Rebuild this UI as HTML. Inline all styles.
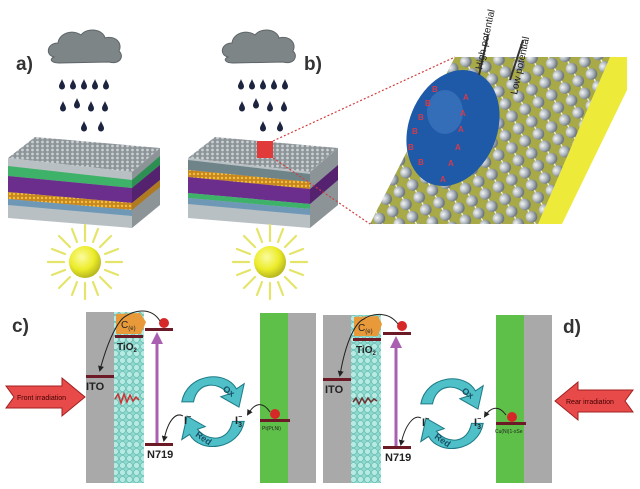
<!DOCTYPE html>
<html><head><meta charset="utf-8"><style>
html,body{margin:0;padding:0;background:#fff}
svg{display:block}
text{font-family:"Liberation Sans",sans-serif}
</style></head><body>
<svg width="640" height="489" viewBox="0 0 640 489" xmlns="http://www.w3.org/2000/svg">
<defs>
<radialGradient id="sun" cx="40%" cy="35%" r="65%"><stop offset="0" stop-color="#fbfba0"/><stop offset="0.6" stop-color="#ecec2a"/><stop offset="1" stop-color="#b8b820"/></radialGradient>
<radialGradient id="ball" cx="35%" cy="35%" r="65%"><stop offset="0" stop-color="#f4f6f8"/><stop offset="0.6" stop-color="#a9b1b8"/><stop offset="1" stop-color="#6c757c"/></radialGradient>
<pattern id="balls" width="15" height="14" patternUnits="userSpaceOnUse" patternTransform="rotate(-28)">
<line x1="7.5" y1="0" x2="7.5" y2="14" stroke="#fff" stroke-width="1.2"/>
<circle cx="7.5" cy="7" r="5.8" fill="url(#ball)"/></pattern>
<pattern id="hex" width="5" height="4" patternUnits="userSpaceOnUse"><rect width="5" height="4" fill="#8d9599"/><circle cx="2.5" cy="2" r="1.4" fill="#c9cfd2"/></pattern>
<pattern id="teal" width="7" height="7" patternUnits="userSpaceOnUse"><rect width="7" height="7" fill="#8fd9cf"/><circle cx="3.5" cy="3.5" r="3" fill="#b6eae2" stroke="#5fb8ad" stroke-width="0.6"/></pattern>
<pattern id="orng" width="4" height="4" patternUnits="userSpaceOnUse"><rect width="4" height="4" fill="#c8861e"/><circle cx="2" cy="2" r="1.2" fill="#f2c040"/></pattern>
<clipPath id="par"><polygon points="455,57 627,57 620,95 555,224 370,224"/></clipPath>
<marker id="ah" markerWidth="6" markerHeight="6" refX="4" refY="3" orient="auto"><path d="M0,0 L6,3 L0,6 z" fill="#222"/></marker>
<marker id="ahp" markerWidth="4" markerHeight="4" refX="2" refY="2" orient="auto"><path d="M0,0 L4,2 L0,4 z" fill="#a960b0"/></marker>
<g id="cloud"><path d="M5,28 C-4,26 -2,14 9,14 C10,4 24,0 32,6 C38,-2 54,0 56,9 C66,6 74,14 70,22 C76,28 70,36 60,33 L10,34 C2,34 0,30 5,28 z" fill="#7d8587" stroke="#5e6568" stroke-width="1"/></g>
<g id="d"><path d="M0,-6 C1,-3 3,-1 3,1.5 A3,3 0 0 1 -3,1.5 C-3,-1 -1,-3 0,-6 z" fill="#1d2440"/></g>
<g id="sunG" stroke="#e4e46a" stroke-width="2.2" stroke-linecap="round">
<line x1="0" y1="-21" x2="0" y2="-37"/><line x1="0" y1="21" x2="0" y2="37"/><line x1="-21" y1="0" x2="-37" y2="0"/><line x1="21" y1="0" x2="37" y2="0"/>
<line x1="15" y1="-15" x2="26" y2="-26"/><line x1="-15" y1="-15" x2="-26" y2="-26"/><line x1="15" y1="15" x2="26" y2="26"/><line x1="-15" y1="15" x2="-26" y2="26"/>
<line x1="8" y1="-20" x2="13" y2="-33"/><line x1="-8" y1="-20" x2="-13" y2="-33"/><line x1="20" y1="-8" x2="33" y2="-13"/><line x1="-20" y1="-8" x2="-33" y2="-13"/>
<line x1="20" y1="8" x2="33" y2="13"/><line x1="-20" y1="8" x2="-33" y2="13"/><line x1="8" y1="20" x2="13" y2="33"/><line x1="-8" y1="20" x2="-13" y2="33"/>
<circle r="16" fill="url(#sun)" stroke="none"/></g>
<g id="rainG"><use href="#d" x="0" y="0"/><use href="#d" x="11" y="0"/><use href="#d" x="22" y="0"/><use href="#d" x="33" y="0"/><use href="#d" x="44" y="0"/>
<use href="#d" x="1" y="22"/><use href="#d" x="15" y="19"/><use href="#d" x="29" y="22"/><use href="#d" x="43" y="22"/>
<use href="#d" x="22" y="42"/><use href="#d" x="39" y="42"/></g>
<g id="cyc">
<g transform="scale(1.3)">
<g transform="translate(0,-5)">
<path d="M-24,-2 C-20,-24 10,-27 18,-12 L24,-16 L20,2 L6,-6 L12,-8 C4,-18 -12,-18 -15,-2 z" fill="#4fc0c8" stroke="#1e7b87" stroke-width="0.8"/>
<text x="7" y="-11" font-size="7" font-weight="bold" fill="#1a4f66" transform="rotate(35 7 -11)">Ox</text></g>
<g transform="translate(0,6)">
<path d="M24,2 C20,24 -10,27 -18,12 L-24,16 L-20,-2 L-6,6 L-12,8 C-4,18 12,18 15,2 z" fill="#4fc0c8" stroke="#1e7b87" stroke-width="0.8"/>
<text x="-14" y="13" font-size="7" font-weight="bold" fill="#1a4f66" transform="rotate(35 -14 13)">Red</text></g>
</g></g>
</defs>

<!-- Panel a -->
<text x="16" y="70" font-size="19" font-weight="bold" fill="#333">a)</text>
<use href="#cloud" x="49" y="29"/>
<use href="#rainG" x="62" y="85"/>
<polygon points="8,158 35,137 160,148 132,172" fill="url(#hex)"/>
<polygon points="8,158 132,172 132,228 8,218" fill="#b8c0c4"/>
<polygon points="8,166 132,180 132,188 8,176" fill="#3fb26a"/>
<polygon points="8,176 132,188 132,203 8,192" fill="#6c2e8c"/>
<polygon points="8,192 132,203 132,210 8,199" fill="url(#orng)"/>
<polygon points="8,199 132,210 132,216 8,205" fill="#6e98b6"/>
<polygon points="132,172 160,148 160,205 132,228" fill="#8c9498"/>
<polygon points="132,180 160,156 160,165 132,188" fill="#2e8f54"/>
<polygon points="132,188 160,165 160,180 132,203" fill="#55226f"/>
<polygon points="132,203 160,180 160,187 132,210" fill="#b07a20"/>
<use href="#sunG" x="85" y="262"/>

<!-- Panel b -->
<text x="304" y="70" font-size="19" font-weight="bold" fill="#333">b)</text>
<use href="#cloud" x="223" y="29"/>
<use href="#rainG" x="241" y="85"/>
<polygon points="188,158 215,137 338,148 310,172" fill="url(#hex)"/>
<polygon points="188,158 310,172 310,228 188,218" fill="#b8c0c4"/>
<polygon points="188,160 310,174 310,182 188,170" fill="#6f8488"/>
<polygon points="188,170 310,182 310,189 188,177" fill="url(#orng)"/>
<polygon points="188,177 310,189 310,204 188,193" fill="#6c2e8c"/>
<polygon points="188,193 310,204 310,209 188,198" fill="#3fb26a"/>
<polygon points="188,198 310,209 310,215 188,204" fill="#6e98b6"/>
<polygon points="310,172 338,148 338,205 310,228" fill="#8c9498"/>
<polygon points="310,189 338,165 338,180 310,204" fill="#55226f"/>
<rect x="257" y="141" width="16" height="17" fill="#e03a3a"/>
<line x1="273" y1="141" x2="455" y2="57" stroke="#d04040" stroke-width="1.2" stroke-dasharray="2,2"/>
<line x1="273" y1="158" x2="370" y2="224" stroke="#d04040" stroke-width="1.2" stroke-dasharray="2,2"/>
<use href="#sunG" x="270" y="262"/>

<!-- zoom panel -->
<polygon points="455,57 627,57 620,95 555,224 370,224" fill="#a8aa48"/>
<rect x="360" y="50" width="280" height="180" fill="url(#balls)" clip-path="url(#par)"/>
<polygon points="610,57 627,57 627,90 562,224 538,224" fill="#eeea3a"/>
<ellipse cx="453" cy="128" rx="44" ry="60" transform="rotate(22 453 128)" fill="#1f5aa8"/>
<ellipse cx="445" cy="112" rx="18" ry="22" fill="#4a82c8" opacity="0.5"/>
<g fill="#d63a4a" font-size="8" font-weight="bold">
<text x="432" y="92">B</text><text x="425" y="106">B</text><text x="418" y="120">B</text><text x="412" y="134">B</text><text x="408" y="150">B</text><text x="418" y="165">B</text>
<text x="463" y="100">A</text><text x="460" y="116">A</text><text x="458" y="132">A</text><text x="455" y="150">A</text><text x="448" y="166">A</text><text x="440" y="182">A</text>
</g>
<line x1="479" y1="75" x2="488" y2="35" stroke="#333" stroke-width="2"/>
<line x1="510" y1="80" x2="523" y2="40" stroke="#333" stroke-width="2"/>
<text x="482" y="70" font-size="10" fill="#222" transform="rotate(-78 482 70)">High potential</text>
<text x="517" y="95" font-size="10" fill="#222" transform="rotate(-78 517 95)">Low potential</text>

<!-- Panel c -->
<text x="12" y="332" font-size="19" font-weight="bold" fill="#333">c)</text>
<rect x="86" y="312" width="28" height="171" fill="#a9a9a9"/>
<rect x="114" y="312" width="30" height="171" fill="url(#teal)"/>
<path d="M116,314 L140,313 L146,322 L141,334 L116,334 z" fill="#e89a3a"/>
<text x="121" y="328" font-size="10" fill="#222">C<tspan font-size="6" dy="2">(e)</tspan></text>
<rect x="115" y="335" width="28" height="3" fill="#6b1a26"/>
<text x="117" y="350" font-size="10" font-weight="bold" fill="#222">TiO<tspan font-size="6" dy="2">2</tspan></text>
<rect x="145" y="328" width="28" height="3" fill="#6b1a26"/>
<circle cx="164" cy="323" r="5" fill="#d62828"/>
<path d="M160,321 C150,305 132,312 126,316 C118,320 108,340 100,370" fill="none" stroke="#222" stroke-width="1" marker-end="url(#ah)"/>
<line x1="157" y1="443" x2="157" y2="338" stroke="#a960b0" stroke-width="3" marker-end="url(#ahp)"/>
<rect x="145" y="443" width="28" height="3" fill="#6b1a26"/>
<text x="147" y="458" font-size="11" font-weight="bold" fill="#222">N719</text>
<rect x="86" y="375" width="28" height="3" fill="#6b1a26"/>
<text x="86" y="390" font-size="11" font-weight="bold" fill="#222">ITO</text>
<path d="M115,399 l3,-5 l3,9 l3,-9 l3,8 l3,-7 l3,6 l3,-4 l3,3" fill="none" stroke="#d03030" stroke-width="1.5"/>
<polygon points="6,386 62,386 62,378 85,397 62,416 62,408 6,408 14,397" fill="#e84a4a" stroke="#a02020"/>
<text x="17" y="400" font-size="7" fill="#400">Front irradiation</text>
<use href="#cyc" x="213" y="411"/>
<path d="M183,416 C176,412 168,420 164,440" fill="none" stroke="#222" stroke-width="1" marker-end="url(#ah)"/>
<text x="184" y="424" font-size="11" font-weight="bold" fill="#222">I<tspan font-size="7" dy="-5">−</tspan></text>
<text x="235" y="424" font-size="11" font-weight="bold" fill="#222">I<tspan font-size="7" dy="-5">−</tspan><tspan font-size="7" dy="8" dx="-4">3</tspan></text>
<rect x="260" y="313" width="28" height="170" fill="#5ec048"/>
<rect x="288" y="313" width="28" height="170" fill="#a9a9a9"/>
<rect x="260" y="419" width="30" height="3" fill="#6b1a26"/>
<circle cx="275" cy="414" r="5" fill="#d62828"/>
<path d="M270,412 C262,400 254,404 248,414" fill="none" stroke="#222" stroke-width="1" marker-end="url(#ah)"/>
<text x="262" y="430" font-size="5" fill="#222">Pt(Pt,Ni)</text>

<!-- Panel d -->
<rect x="323" y="315" width="28" height="168" fill="#a9a9a9"/>
<rect x="351" y="315" width="30" height="168" fill="url(#teal)"/>
<path d="M354,317 L378,316 L382,324 L378,336 L354,336 z" fill="#e89a3a"/>
<text x="358" y="331" font-size="10" fill="#222">C<tspan font-size="6" dy="2">(e)</tspan></text>
<rect x="353" y="338" width="28" height="3" fill="#6b1a26"/>
<text x="356" y="353" font-size="10" font-weight="bold" fill="#222">TiO<tspan font-size="6" dy="2">2</tspan></text>
<rect x="383" y="332" width="28" height="3" fill="#6b1a26"/>
<circle cx="402" cy="326" r="5" fill="#d62828"/>
<path d="M398,324 C388,310 370,314 364,319 C356,322 346,340 340,375" fill="none" stroke="#222" stroke-width="1" marker-end="url(#ah)"/>
<line x1="396" y1="446" x2="396" y2="342" stroke="#a960b0" stroke-width="3" marker-end="url(#ahp)"/>
<rect x="383" y="446" width="28" height="3" fill="#6b1a26"/>
<text x="385" y="461" font-size="11" font-weight="bold" fill="#222">N719</text>
<rect x="323" y="378" width="28" height="3" fill="#6b1a26"/>
<text x="325" y="393" font-size="11" font-weight="bold" fill="#222">ITO</text>
<path d="M353,402 l3,-4 l3,6 l3,-6 l3,5 l3,-5 l3,4 l3,-3 l3,2" fill="none" stroke="#703030" stroke-width="1.5"/>
<use href="#cyc" x="452" y="413"/>
<path d="M421,418 C414,414 405,425 401,444" fill="none" stroke="#222" stroke-width="1" marker-end="url(#ah)"/>
<text x="422" y="426" font-size="11" font-weight="bold" fill="#222">I<tspan font-size="7" dy="-5">−</tspan></text>
<text x="474" y="426" font-size="11" font-weight="bold" fill="#222">I<tspan font-size="7" dy="-5">−</tspan><tspan font-size="7" dy="8" dx="-4">3</tspan></text>
<rect x="496" y="315" width="28" height="168" fill="#5ec048"/>
<rect x="524" y="315" width="28" height="168" fill="#a9a9a9"/>
<rect x="496" y="422" width="30" height="3" fill="#6b1a26"/>
<circle cx="512" cy="417" r="5" fill="#d62828"/>
<path d="M506,415 C498,404 490,408 485,416" fill="none" stroke="#222" stroke-width="1" marker-end="url(#ah)"/>
<text x="495" y="433" font-size="5" fill="#222">Cu(Ni)1-xSe</text>
<text x="563" y="333" font-size="19" font-weight="bold" fill="#333">d)</text>
<polygon points="633,390 578,390 578,382 555,401 578,420 578,412 633,412 625,401" fill="#e84a4a" stroke="#a02020"/>
<text x="566" y="404" font-size="7" fill="#400">Rear irradiation</text>
</svg>
</body></html>
